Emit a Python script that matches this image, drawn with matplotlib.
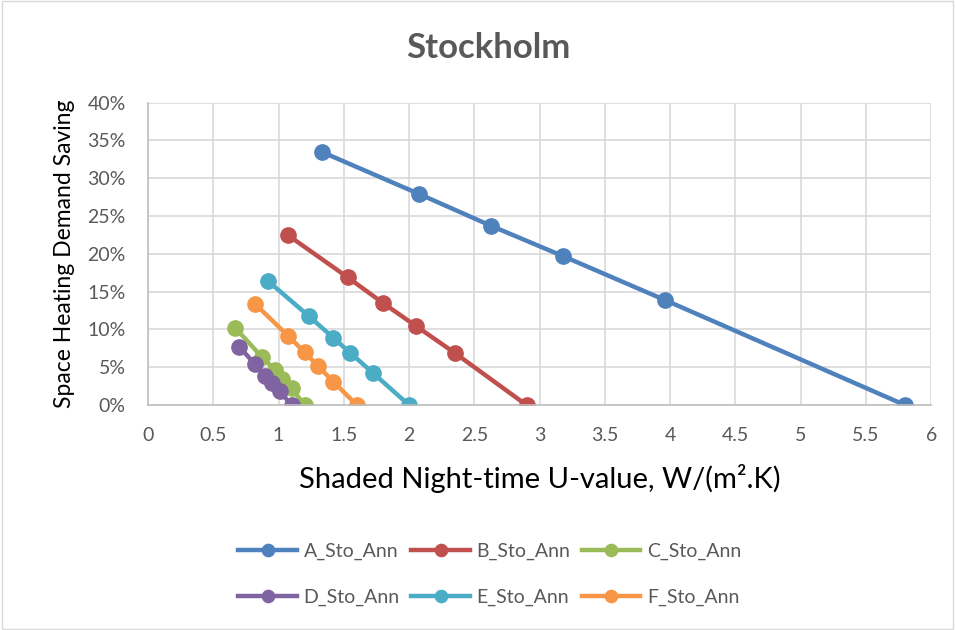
import matplotlib.pyplot as plt
from matplotlib.ticker import PercentFormatter, FuncFormatter

plt.rcParams['font.family'] = ['Lato', 'DejaVu Sans']

names = ['A_Sto_Ann', 'B_Sto_Ann', 'C_Sto_Ann', 'D_Sto_Ann', 'E_Sto_Ann', 'F_Sto_Ann']
colors = ['#4F81BD', '#C0504D', '#9BBB59', '#8064A2', '#4BACC6', '#F79646']

a_x = [1.33, 2.08, 2.63, 3.18, 3.96, 5.80]
a_y = [33.5, 27.9, 23.7, 19.7, 13.9, 0.0]
b_x = [1.07, 1.53, 1.80, 2.05, 2.35, 2.90]
b_y = [22.5, 16.9, 13.5, 10.5, 6.9, 0.0]
c_x = [0.67, 0.87, 0.97, 1.03, 1.10, 1.20]
c_y = [10.2, 6.4, 4.7, 3.5, 2.2, 0.0]
d_x = [0.70, 0.82, 0.90, 0.95, 1.01, 1.10]
d_y = [7.7, 5.4, 3.8, 2.9, 1.8, 0.0]
e_x = [0.92, 1.23, 1.42, 1.55, 1.72, 2.00]
e_y = [16.4, 11.8, 8.9, 6.9, 4.3, 0.0]
f_x = [0.82, 1.07, 1.20, 1.30, 1.42, 1.60]
f_y = [13.4, 9.2, 7.0, 5.2, 3.1, 0.0]

series = [(a_x, a_y), (b_x, b_y), (c_x, c_y), (d_x, d_y), (e_x, e_y), (f_x, f_y)]

fig = plt.figure(figsize=(9.55, 6.3), dpi=100)
ax = fig.add_axes([0.155, 0.357, 0.82, 0.48])

lines = []
for (x, y), name, col in zip(series, names, colors):
    ln, = ax.plot(x, y, '-o', color=col, lw=3.2, ms=11, label=name)
    lines.append(ln)

ax.set_xlim(0, 6)
ax.set_ylim(0, 40)
ax.set_xticks([i * 0.5 for i in range(13)])
ax.xaxis.set_major_formatter(FuncFormatter(lambda v, p: f'{v:g}'))
ax.set_yticks(range(0, 41, 5))
ax.yaxis.set_major_formatter(PercentFormatter(decimals=0))
ax.grid(color='#D9D9D9', lw=1.2)
ax.set_axisbelow(True)
for s in ['top', 'right']:
    ax.spines[s].set_visible(False)
for s in ['left', 'bottom']:
    ax.spines[s].set_color('#BFBFBF')
    ax.spines[s].set_linewidth(1.2)
ax.tick_params(length=0, labelsize=14, colors='#595959')
ax.tick_params(axis='x', pad=16)
ax.tick_params(axis='y', pad=16)

ax.set_xlabel('Shaded Night-time U-value, W/(m\u00b2.K)', fontsize=21, labelpad=14)
ax.set_ylabel('Space Heating Demand Saving', fontsize=16.5, labelpad=9)
fig.text(0.511, 0.924, 'Stockholm', ha='center', va='center', fontsize=25,
         fontweight='bold', color='#595959')

# row-wise legend order: A B C / D E F
order = [0, 3, 1, 4, 2, 5]
fig.legend([lines[i] for i in order], [names[i] for i in order],
           loc='center', bbox_to_anchor=(0.513, 0.088),
           ncol=3, frameon=False, fontsize=14, handlelength=3.0,
           columnspacing=0.6, handletextpad=0.35, labelcolor='#595959',
           labelspacing=1.45, markerscale=0.8)

border = plt.Rectangle((0.002, 0.002), 0.996, 0.996, transform=fig.transFigure,
                       fill=False, edgecolor='#D9D9D9', lw=1)
fig.patches.append(border)

fig.savefig('out.png', dpi=100)
